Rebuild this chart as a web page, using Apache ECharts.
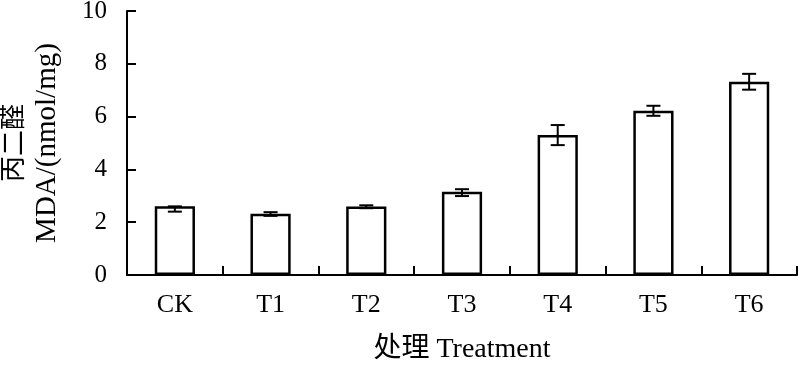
<!DOCTYPE html>
<html>
<head>
<meta charset="utf-8">
<script src="https://cdn.jsdelivr.net/npm/echarts@6/dist/echarts.min.js"></script>
<style>html,body{margin:0;padding:0;background:#fff}#c{width:800px;height:366px}</style>
</head>
<body>
<div id="c"></div>
<script>
var categories = ['CK', 'T1', 'T2', 'T3', 'T4', 'T5', 'T6'];
var mdaValues = [2.6, 2.32, 2.59, 3.15, 5.3, 6.22, 7.32];
var errUp = [0, 0.06, 0.05, 0.1, 0.38, 0.19, 0.3];
var errDown = [0.2, 0.08, 0.06, 0.16, 0.38, 0.19, 0.3];
var yTicks = [0, 2, 4, 6, 8, 10];

var font = '"Liberation Serif", "Times New Roman", "Noto Sans CJK SC", serif';
var chart = echarts.init(document.getElementById('c'), null, {renderer: 'canvas'});
var errData = categories.map(function (c, i) {
  return [i, mdaValues[i] - errDown[i], mdaValues[i] + errUp[i]];
});
chart.setOption({
  animation: false,
  backgroundColor: '#fff',
  grid: {left: 127, top: 11, right: 3, bottom: 91, outerBoundsMode: 'none', containLabel: false},
  xAxis: {
    type: 'category',
    data: categories,
    name: '处理 Treatment',
    nameLocation: 'middle',
    nameGap: 61,
    nameTextStyle: {color: '#000', fontSize: 28, fontFamily: font},
    axisLine: {lineStyle: {color: '#000', width: 2}},
    axisTick: {show: true, inside: true, length: 9, alignWithLabel: false, lineStyle: {color: '#000', width: 2}},
    axisLabel: {color: '#000', fontSize: 26, fontFamily: font, margin: 17}
  },
  yAxis: {
    type: 'value',
    min: yTicks[0],
    max: yTicks[yTicks.length - 1],
    interval: 2,
    name: '{a|丙二醛}\n{b|MDA/(nmol/mg)}',
    nameLocation: 'middle',
    nameRotate: 90,
    nameGap: 64,
    nameTextStyle: {
      color: '#000', fontFamily: font,
      rich: {
        a: {fontSize: 26, lineHeight: 32, fontFamily: font, color: '#000'},
        b: {fontSize: 29, lineHeight: 32, fontFamily: font, color: '#000'}
      }
    },
    axisLine: {show: true, lineStyle: {color: '#000', width: 2}},
    axisTick: {show: true, inside: true, length: 9, lineStyle: {color: '#000', width: 2}},
    splitLine: {show: false},
    axisLabel: {color: '#000', fontSize: 25, fontFamily: font, margin: 20}
  },
  series: [
    {
      type: 'bar',
      data: mdaValues,
      barWidth: '42%',
      itemStyle: {color: '#fff', borderColor: '#000', borderWidth: 2.5},
      z: 2
    },
    {
      type: 'custom',
      data: errData,
      z: 3,
      renderItem: function (params, api) {
        var x = api.value(0);
        var lo = api.coord([x, api.value(1)]);
        var hi = api.coord([x, api.value(2)]);
        var hw = 7;
        var style = {stroke: '#000', lineWidth: 2, fill: null};
        return {
          type: 'group',
          children: [
            {type: 'line', shape: {x1: lo[0], y1: lo[1], x2: hi[0], y2: hi[1]}, style: style},
            {type: 'line', shape: {x1: lo[0] - hw, y1: lo[1], x2: lo[0] + hw, y2: lo[1]}, style: style},
            {type: 'line', shape: {x1: hi[0] - hw, y1: hi[1], x2: hi[0] + hw, y2: hi[1]}, style: style}
          ]
        };
      }
    }
  ]
});
</script>
</body>
</html>
